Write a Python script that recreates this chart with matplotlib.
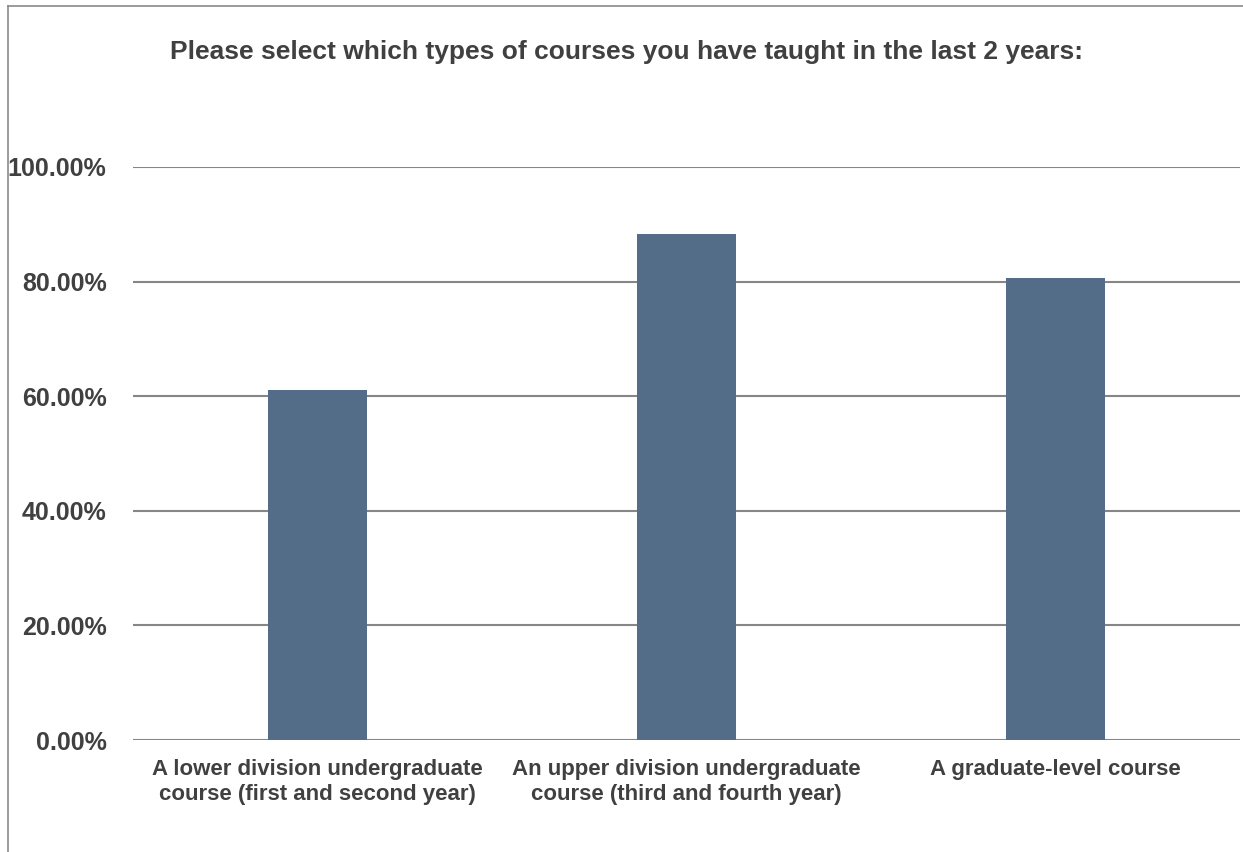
import matplotlib.pyplot as plt
from matplotlib.lines import Line2D
from matplotlib.ticker import FuncFormatter

# survey answers, share of respondents (%)
categories = [
    "A lower division undergraduate\ncourse (first and second year)",
    "An upper division undergraduate\ncourse (third and fourth year)",
    "A graduate-level course",
]
shares = [61.1, 88.3, 80.6]
title = "Please select which types of courses you have taught in the last 2 years:"

plt.rcParams["font.family"] = ["Liberation Sans Narrow", "Liberation Sans", "DejaVu Sans"]
text_color = "#404040"

fig = plt.figure(figsize=(12.43, 8.52), dpi=100)
ax = fig.add_axes([133 / 1243, 1 - 740 / 852, (1240 - 133) / 1243, (740 - 167) / 852])

x = range(len(categories))
ax.bar(x, shares, width=0.266, color="#536C88", zorder=3)

ax.set_ylim(0, 100)
ax.set_xlim(-0.5, len(categories) - 0.5)
ax.set_yticks([0, 20, 40, 60, 80, 100])
ax.yaxis.set_major_formatter(FuncFormatter(lambda v, p: f"{v:.2f}%"))
ax.yaxis.grid(True, color="#868686", linewidth=1.5, zorder=0)
ax.set_xticks(list(x))
ax.set_xticklabels(categories)

for s in ax.spines.values():
    s.set_visible(False)
ax.tick_params(axis="both", length=0, colors=text_color)
ax.tick_params(axis="y", labelsize=18, pad=19)
ax.tick_params(axis="x", labelsize=16, pad=14)
for lab in ax.get_xticklabels() + ax.get_yticklabels():
    lab.set_fontweight("bold")
    lab.set_color(text_color)

fig.text(0.504, 1 - 52 / 852, title, ha="center", va="center",
         fontsize=19, fontweight="bold", color=text_color)

# outer chart frame (left and top edges visible)
fig.add_artist(Line2D([8 / 1243, 8 / 1243], [0, 1 - 6 / 852], color="#8a8a8a", linewidth=1.2))
fig.add_artist(Line2D([8 / 1243, 1], [1 - 6 / 852, 1 - 6 / 852], color="#8a8a8a", linewidth=1.2))

plt.savefig("out.png", dpi=100)
